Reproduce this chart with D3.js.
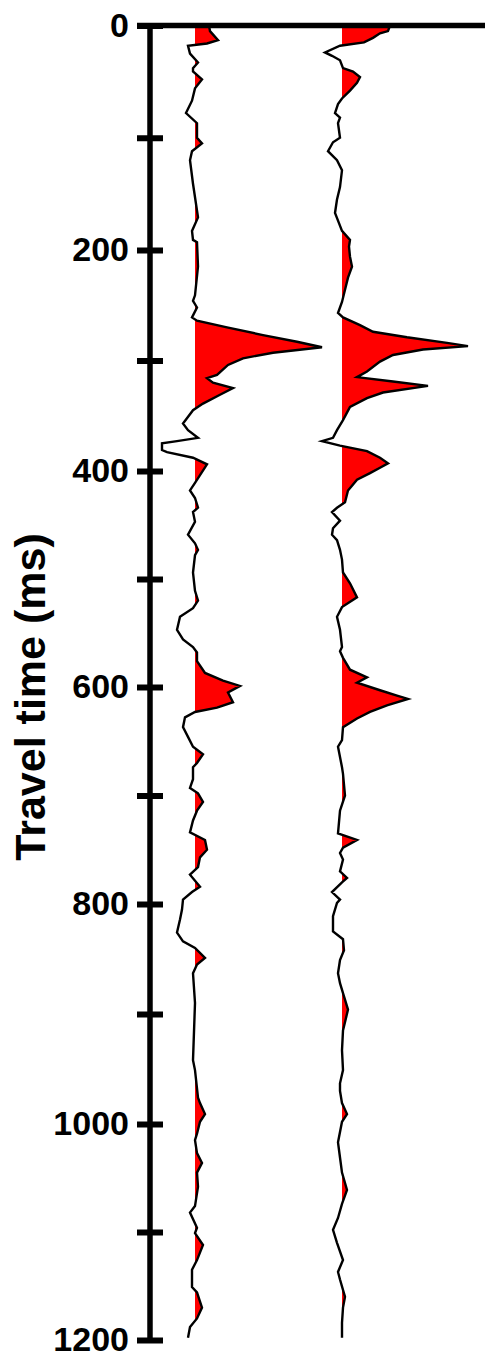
<!DOCTYPE html>
<html>
<head>
<meta charset="utf-8">
<script src="https://cdn.jsdelivr.net/npm/d3@7"></script>
<style>
  html, body { margin: 0; padding: 0; background: #fff; }
  svg { display: block; }
</style>
</head>
<body>
<svg id="chart" width="485" height="1361"></svg>
<script>
// ---- Data ----
const traceNames = ["Trace 1", "Trace 2"];
// travel time (ms) and amplitude (arbitrary units) for trace 1
const trace1Time = [0,5,13,16,18,25,33,38,41,48,56,67,78,87,100,105,112,120,141,171,183,191,193,215,241,246,252,261,264,270,277,283,288,293,298,304,313,316,320,325,331,339,345,357,363,370,373,375,381,383,388,394,411,418,425,434,438,447,459,467,473,478,494,511,520,527,535,547,556,563,568,576,587,594,599,605,614,619,623,628,637,646,655,662,670,674,685,693,698,706,714,723,734,741,750,757,766,773,784,789,796,805,814,826,834,840,849,855,863,890,942,951,976,981,991,998,1009,1015,1027,1036,1045,1058,1076,1082,1096,1101,1112,1126,1135,1151,1156,1170,1180,1188,1198];
const trace1Amp  = [14,15,23,12,-7,-5,3,-2,-2,7,0,-3,-9,2,2,7,-3,-5,-2,3,-3,-2,2,3,0,-2,2,-3,2,32,68,102,127,78,48,33,22,12,18,38,25,8,-2,-12,-7,3,-18,-33,-33,-28,-2,12,0,-5,0,3,-2,0,-7,0,3,0,-2,0,3,-2,-15,-18,-12,-2,2,2,10,28,45,33,38,22,0,-10,-12,-7,-2,8,2,-2,-2,-5,3,8,2,-2,-5,10,12,5,3,-5,5,-3,-12,-13,-15,-18,-12,0,10,2,-2,0,-2,0,3,5,10,5,2,0,2,7,2,3,0,-5,2,0,8,2,-3,-3,2,7,2,-5,-7];
// travel time (ms) and amplitude for trace 2
const trace2Time = [0,5,7,11,15,18,24,27,31,38,41,46,51,58,65,70,78,82,87,100,104,112,120,129,144,155,167,183,191,197,206,215,225,236,247,257,261,268,274,279,284,287,290,295,301,310,315,319,323,329,334,342,354,363,370,373,377,382,388,393,397,402,408,418,429,434,438,446,453,459,464,473,482,494,504,517,526,535,547,563,567,573,584,591,596,603,608,611,617,623,629,637,649,655,674,680,700,714,735,741,748,753,759,770,776,780,789,796,799,811,825,832,842,851,863,872,881,896,915,933,951,963,970,981,991,998,1017,1031,1045,1061,1074,1087,1098,1110,1126,1137,1144,1160,1170,1184,1198];
const trace2Amp  = [48,46,38,31,22,-2,-17,-10,-2,1,11,18,15,8,0,-4,-7,-2,-4,-2,-9,-14,-5,0,-2,-5,-7,0,8,7,8,10,6,3,0,-4,1,18,31,65,105,126,81,51,38,25,15,51,86,41,25,8,1,-5,-9,-20,-2,25,38,46,38,28,15,6,3,-5,-10,-2,-9,-10,-5,-2,0,1,8,15,0,-5,-2,0,-2,1,8,25,15,38,55,66,45,28,15,1,0,-4,0,1,3,-2,-4,15,1,-2,1,-2,5,0,-10,-2,-5,-9,-9,1,2,-2,-4,-2,1,6,1,0,1,-2,-2,0,5,0,-4,-2,0,5,0,-4,-9,-5,1,-4,-2,3,1,0,0];
const tickValues = [0,100,200,300,400,500,600,700,800,900,1000,1100,1200];
const labelValues = [0,200,400,600,800,1000,1200];
const axisTitle = "Travel time (ms)";

// ---- Scales ----
const W = 485, H = 1361;
const svg = d3.select("#chart");
// piecewise-linear time axis (matches the slightly uneven tick spacing of the original figure)
const y = d3.scaleLinear()
  .domain([0, 200, 400, 600, 800, 1000, 1200])
  .range([25.5, 250, 471, 687, 904, 1124, 1340]);
const traceX = d3.scalePoint().domain(traceNames).range([195, 342]);
const amp = d3.scaleLinear().domain([0, 127]).range([0, 127]);
const axisX = 150;

const traces = [
  { name: traceNames[0], pts: trace1Time.map((t, i) => ({ t, a: trace1Amp[i] })) },
  { name: traceNames[1], pts: trace2Time.map((t, i) => ({ t, a: trace2Amp[i] })) }
];

// ---- Traces ----
const defs = svg.append("defs");
traces.forEach((tr, i) => {
  const base = traceX(tr.name);
  defs.append("clipPath").attr("id", "clip" + i)
    .append("rect").attr("x", base).attr("y", 0).attr("width", W - base).attr("height", H);
  const area = d3.area()
    .y(d => y(d.t))
    .x0(base)
    .x1(d => base + amp(d.a));
  const line = d3.line()
    .y(d => y(d.t))
    .x(d => base + amp(d.a));
  svg.append("path").datum(tr.pts)
    .attr("d", area)
    .attr("fill", "#ff0000")
    .attr("clip-path", "url(#clip" + i + ")");
  svg.append("path").datum(tr.pts)
    .attr("d", line)
    .attr("fill", "none")
    .attr("stroke", "#000")
    .attr("stroke-width", 2.4)
    .attr("stroke-linejoin", "miter");
});

// ---- Axis ----
const fmt = d => labelValues.includes(d) ? String(d) : "";
const gL = svg.append("g").attr("transform", `translate(${axisX},0)`)
  .call(d3.axisLeft(y).tickValues(tickValues).tickSizeInner(13).tickSizeOuter(0).tickPadding(8).tickFormat(fmt));
const gR = svg.append("g").attr("transform", `translate(${axisX},0)`)
  .call(d3.axisRight(y).tickValues(tickValues).tickSizeInner(13).tickSizeOuter(0).tickFormat(""));
[gL, gR].forEach(g => {
  g.select(".domain").attr("stroke", "#000").attr("stroke-width", 5.5);
  g.selectAll(".tick line").attr("stroke", "#000").attr("stroke-width", 6);
});
gR.select(".domain").remove();
gL.select(".domain").attr("d", `M0,${y(0)}V${y(1200) + 3}`);
gL.selectAll(".tick text")
  .attr("fill", "#000")
  .style("font-family", "'Liberation Sans', Arial, sans-serif")
  .style("font-weight", "bold")
  .style("font-size", "34px");

// top line
svg.append("line")
  .attr("x1", axisX - 13).attr("x2", W)
  .attr("y1", y(0)).attr("y2", y(0))
  .attr("stroke", "#000").attr("stroke-width", 5.5);

// axis title
svg.append("text")
  .attr("transform", `translate(45,697) rotate(-90)`)
  .attr("text-anchor", "middle")
  .style("font-family", "'Liberation Sans', Arial, sans-serif")
  .style("font-weight", "bold")
  .style("font-size", "43px")
  .attr("fill", "#000")
  .text(axisTitle);
</script>
</body>
</html>
